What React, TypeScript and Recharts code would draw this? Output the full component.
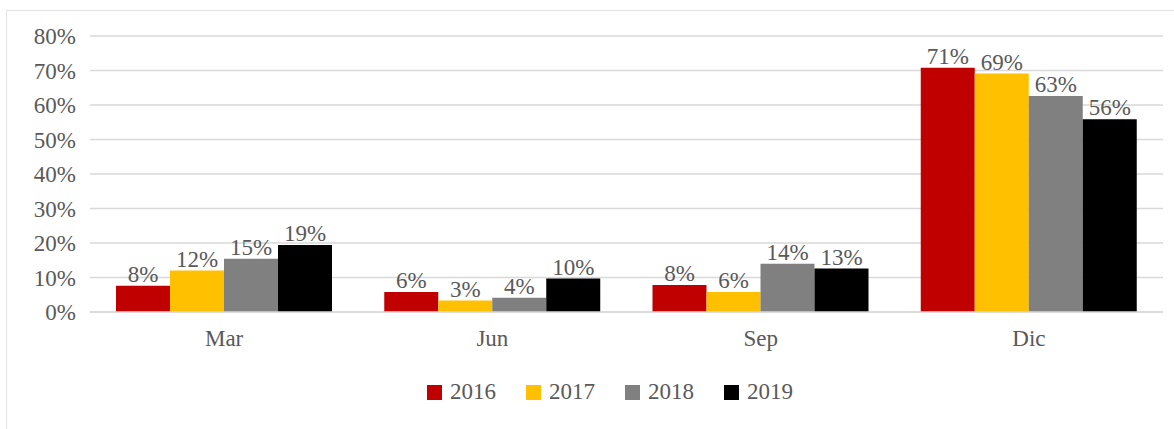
import React from 'react';
import { BarChart, Bar, XAxis, YAxis, CartesianGrid, Legend, LabelList } from 'recharts';

const months = ['Mar', 'Jun', 'Sep', 'Dic'];
const years = ['2016', '2017', '2018', '2019'];
const values2016 = [7.6, 5.8, 7.8, 70.8];
const values2017 = [12.0, 3.3, 5.8, 69.1];
const values2018 = [15.4, 4.1, 14.0, 62.6];
const values2019 = [19.4, 9.7, 12.6, 55.9];
const labels2016 = ['8%', '6%', '8%', '71%'];
const labels2017 = ['12%', '3%', '6%', '69%'];
const labels2018 = ['15%', '4%', '14%', '63%'];
const labels2019 = ['19%', '10%', '13%', '56%'];
const yTicks = [0, 10, 20, 30, 40, 50, 60, 70, 80];
const colors = ['#c00000', '#ffc000', '#808080', '#000000'];

const data = months.map((m, i) => ({
  month: m,
  y2016: values2016[i],
  y2017: values2017[i],
  y2018: values2018[i],
  y2019: values2019[i],
  l2016: labels2016[i],
  l2017: labels2017[i],
  l2018: labels2018[i],
  l2019: labels2019[i],
}));

const FONT = '"Liberation Serif", "Times New Roman", serif';
const TEXT = '#595959';

const LegendContent = () => (
  <div style={{ display: 'flex', justifyContent: 'center', alignItems: 'center', height: 30, fontFamily: FONT, fontSize: 23, color: TEXT }}>
    {years.map((y, i) => (
      <div key={y} style={{ display: 'flex', alignItems: 'center', marginRight: i < 3 ? 30 : 0 }}>
        <span style={{ display: 'inline-block', width: 15, height: 15, background: colors[i], marginRight: 8 }} />
        <span>{y}</span>
      </div>
    ))}
  </div>
);

export default function App() {
  const keys = ['y2016', 'y2017', 'y2018', 'y2019'];
  const labelKeys = ['l2016', 'l2017', 'l2018', 'l2019'];
  return (
    <div style={{ position: 'absolute', left: 0, top: 0, width: 1174, height: 429, background: '#fff', overflow: 'hidden' }}>
      {/* outer frame, runs off the right and bottom edges */}
      <div style={{ position: 'absolute', left: 6, top: 10, width: 1200, height: 440, border: '1px solid #e3e3e3', boxSizing: 'border-box' }} />
      <BarChart
        width={1174}
        height={429}
        data={data}
        margin={{ top: 36, right: 11, left: 30, bottom: 57 }}
        barCategoryGap={26}
        barGap={0}
        style={{ position: 'absolute', left: 0, top: 0 }}
      >
        <CartesianGrid vertical={false} stroke="#d9d9d9" strokeWidth={1.5} />
        <XAxis
          dataKey="month"
          height={30}
          tickLine={false}
          tickSize={0}
          tickMargin={18}
          axisLine={{ stroke: '#d9d9d9', strokeWidth: 1.5 }}
          tick={{ fill: TEXT, fontSize: 23, fontFamily: FONT }}
        />
        <YAxis
          width={60}
          domain={[0, 80]}
          ticks={yTicks}
          interval={0}
          axisLine={false}
          tickLine={false}
          tickSize={0}
          tickMargin={14}
          tickFormatter={(v: number) => `${v}%`}
          tick={{ fill: TEXT, fontSize: 23, fontFamily: FONT }}
        />
        <Legend
          verticalAlign="bottom"
          content={<LegendContent />}
          wrapperStyle={{ left: 23, width: 1174, bottom: 22 }}
        />
        {keys.map((k, i) => (
          <Bar key={k} dataKey={k} name={years[i]} fill={colors[i]} isAnimationActive={false}>
            <LabelList dataKey={labelKeys[i]} position="top" offset={4} fill={TEXT} fontSize={23} fontFamily={FONT} />
          </Bar>
        ))}
      </BarChart>
    </div>
  );
}
